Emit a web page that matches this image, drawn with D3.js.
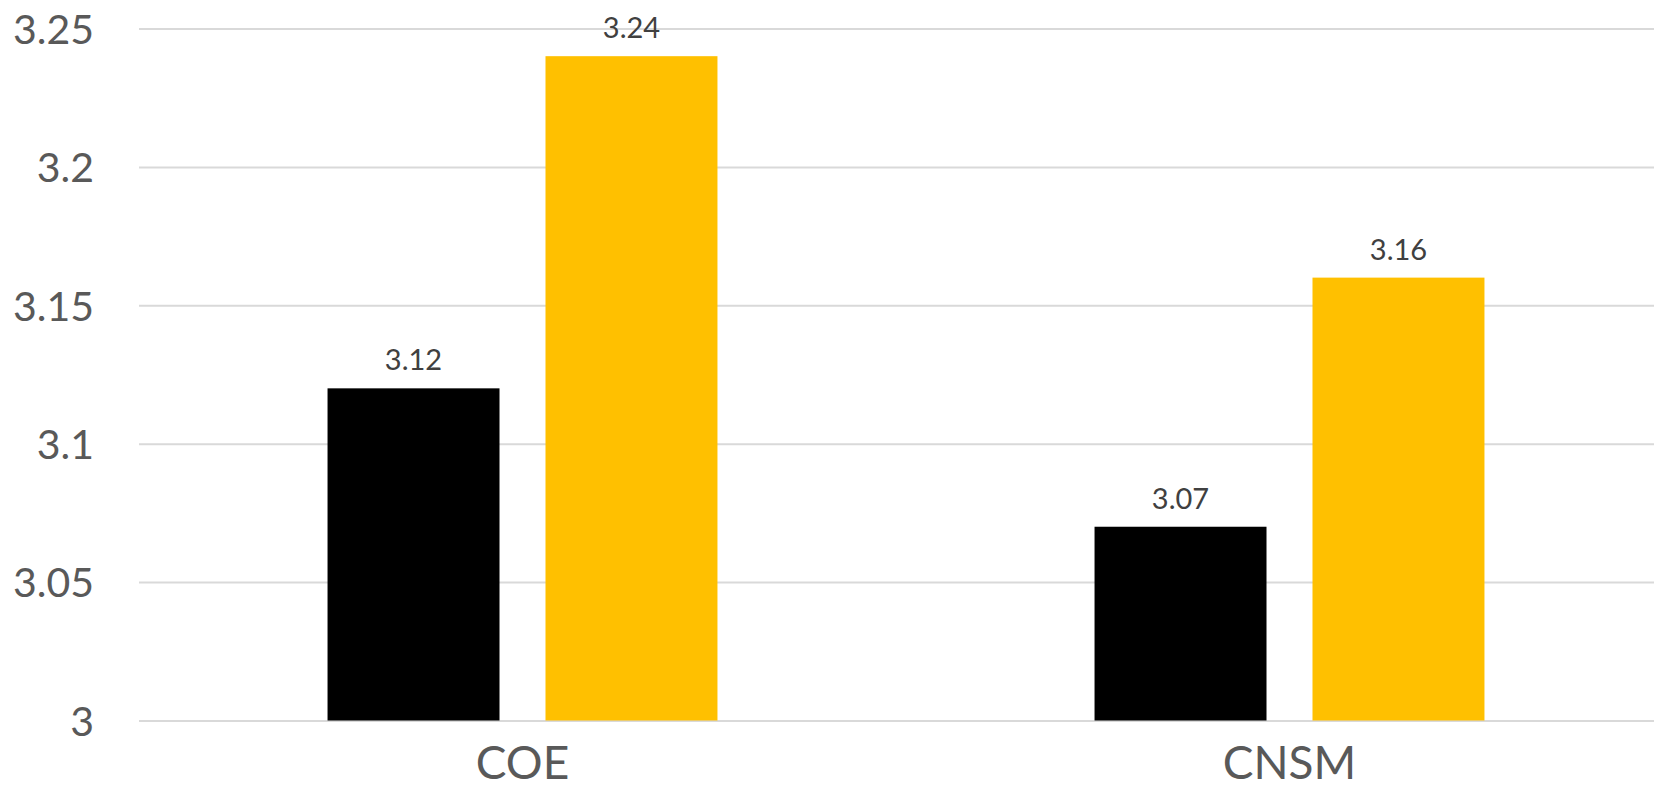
<!DOCTYPE html>
<html>
<head>
<meta charset="utf-8">
<script src="https://cdn.jsdelivr.net/npm/d3@7"></script>
<style>
  html, body { margin: 0; padding: 0; background: #fff; overflow: hidden; }
  svg text { font-family: Lato, "Open Sans", sans-serif; }
</style>
</head>
<body>
<svg class="svgChart"></svg>
<script>
// chart data
const categories = ['COE', 'CNSM'];
const seriesNames = ['Series 1', 'Series 2'];
const series1 = [3.12, 3.07];
const series2 = [3.24, 3.16];
const tickValues = [3, 3.05, 3.1, 3.15, 3.2, 3.25];
const colors = ['#000000', '#FFC000'];

const margin = { top: 28.5, right: -19, bottom: 80.5, left: 139 };
const fullWidth = 1654;
const fullHeight = 801;
let width = fullWidth - margin.left - margin.right;
let height = fullHeight - margin.top - margin.bottom;

const rows = categories.map((c, i) => ({ cat: c, values: [series1[i], series2[i]] }));

const svg = d3.select('.svgChart')
  .attr('width', fullWidth)
  .attr('height', fullHeight);

const g = svg.append('g')
  .attr('transform', `translate(${margin.left}, ${margin.top})`);

const xScale = d3.scaleBand()
  .domain(categories)
  .range([0, width]);

const xInner = d3.scaleBand()
  .domain(seriesNames)
  .range([0, xScale.bandwidth()])
  .paddingInner(0.211)
  .paddingOuter(0.865);

const yScale = d3.scaleLinear()
  .domain([3, 3.25])
  .range([height, 0]);

// gridlines + y labels
const yAxis = d3.axisLeft(yScale)
  .tickValues(tickValues)
  .tickSize(-width)
  .tickPadding(45)
  .tickFormat(d => String(d));

g.append('g')
  .attr('class', 'yAxis')
  .call(yAxis)
  .call(a => a.select('.domain').remove())
  .call(a => a.selectAll('line')
    .attr('stroke', '#d9d9d9')
    .attr('stroke-width', 2))
  .call(a => a.selectAll('text')
    .attr('fill', '#595959')
    .attr('font-size', 41)
    .attr('dy', '0.36em'));

// bars
const groups = g.append('g')
  .attr('class', 'chart')
  .selectAll('g')
  .data(rows)
  .enter()
  .append('g')
    .attr('transform', d => `translate(${xScale(d.cat)}, 0)`);

groups.selectAll('rect')
  .data(d => d.values.map((v, i) => ({ key: seriesNames[i], value: v, i: i })))
  .enter()
  .append('rect')
    .attr('x', d => xInner(d.key))
    .attr('y', d => yScale(d.value))
    .attr('width', xInner.bandwidth())
    .attr('height', d => yScale(3) - yScale(d.value))
    .attr('fill', d => colors[d.i]);

// value labels
groups.selectAll('text.val')
  .data(d => d.values.map((v, i) => ({ key: seriesNames[i], value: v })))
  .enter()
  .append('text')
    .attr('class', 'val')
    .attr('x', d => xInner(d.key) + xInner.bandwidth() / 2)
    .attr('y', d => yScale(d.value) - 18)
    .attr('text-anchor', 'middle')
    .attr('font-size', 29)
    .attr('fill', '#404040')
    .text(d => d.value.toFixed(2));

// x axis labels
const xAxis = d3.axisBottom(xScale).tickSize(0).tickPadding(26);
g.append('g')
  .attr('class', 'xAxis')
  .attr('transform', `translate(0, ${height})`)
  .call(xAxis)
  .call(a => a.select('.domain').remove())
  .call(a => a.selectAll('text')
    .attr('fill', '#595959')
    .attr('font-size', 46)
    .attr('dy', '0.71em'));
</script>
</body>
</html>
